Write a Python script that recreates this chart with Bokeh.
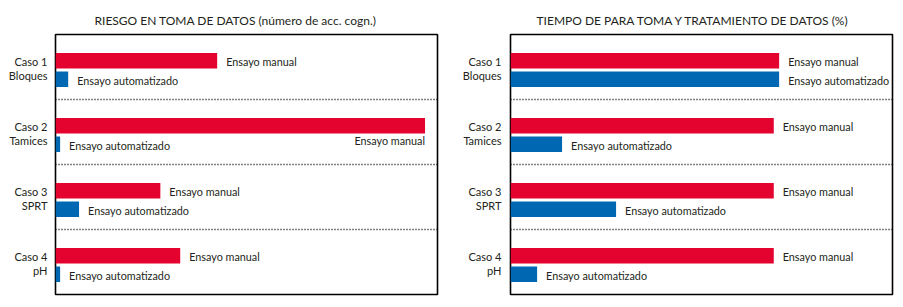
from bokeh.plotting import figure
from bokeh.layouts import row
from bokeh.models import ColumnDataSource, Range1d, FixedTicker, Span
from bokeh.core.properties import value
from bokeh.embed import file_html
from bokeh.resources import INLINE

# ---- data ----
casos = ["Caso 1", "Caso 2", "Caso 3", "Caso 4"]
subtitulos = ["Bloques", "Tamices", "SPRT", "pH"]

riesgo_manual = [35, 80, 22.7, 27]
riesgo_auto = [2.75, 1.0, 5.1, 1.0]

tiempo_manual = [100, 98, 98, 98]
tiempo_auto = [100, 19.2, 39.3, 9.9]

titulo_riesgo = "RIESGO EN TOMA DE DATOS (número de acc. cogn.)"
titulo_tiempo = "TIEMPO DE PARA TOMA Y TRATAMIENTO DE DATOS (%)"
etiqueta_manual = "Ensayo manual"
etiqueta_auto = "Ensayo automatizado"

RED = "#E4032E"
BLUE = "#0068B3"
FONT = "Lato"
TXT = "#231f20"

MAN_C = 0.403
AUT_C = 0.69
BAR_H = 0.238
LAB_M = 0.415
LAB_A = 0.70


def make_panel(title, manual, auto, xmax, left, right, title_offset, standoff):
    n = len(casos)
    p = figure(width=left + 382 + right, height=307,
               x_range=Range1d(0, xmax), y_range=Range1d(n, 0),
               output_backend="svg", toolbar_location=None,
               min_border_left=left, min_border_right=right,
               min_border_top=34, min_border_bottom=13)
    p.title.text = title
    p.title.text_font = FONT
    p.title.text_font_size = "12px"
    p.title.text_font_style = "normal"
    p.title.text_color = TXT
    p.title.align = "left"
    p.title.offset = title_offset
    p.title.standoff = 14

    p.grid.visible = False
    p.xaxis.visible = False
    p.background_fill_color = "white"
    p.border_fill_color = "white"
    p.outline_line_color = "black"
    p.outline_line_width = 1.6
    p.outline_line_alpha = 1

    idx = list(range(n))
    ym = [i + MAN_C for i in idx]
    ya = [i + AUT_C for i in idx]
    p.hbar(y=ym, right=manual, left=0, height=BAR_H, color=RED, line_color=None)
    p.hbar(y=ya, right=auto, left=0, height=BAR_H, color=BLUE, line_color=None)

    # labels
    lx, ly, la, lo = [], [], [], []
    for i in idx:
        if manual[i] > 0.9 * xmax:
            lx.append(manual[i]); ly.append(i + 0.63); la.append("right"); lo.append(0)
        else:
            lx.append(manual[i]); ly.append(i + LAB_M); la.append("left"); lo.append(9)
    src_m = ColumnDataSource(dict(x=lx, y=ly, t=[etiqueta_manual] * n, a=la, o=lo))
    p.text(x="x", y="y", text="t", source=src_m, text_align="a", x_offset="o",
           text_baseline="middle", text_font=value(FONT), text_font_size="10.8px",
           text_color=TXT)
    src_a = ColumnDataSource(dict(x=auto, y=[i + LAB_A for i in idx], t=[etiqueta_auto] * n))
    p.text(x="x", y="y", text="t", source=src_a, text_align="left", x_offset=9,
           text_baseline="middle", text_font=value(FONT), text_font_size="10.8px",
           text_color=TXT)

    for i in range(1, n):
        p.add_layout(Span(location=i, dimension="width", line_color="black",
                          line_width=1.3, line_dash="1 2"))

    ticks, over = [], {}
    for i in idx:
        t1 = i + 0.41
        t2 = i + 0.63
        ticks += [t1, t2]
        over[t1] = casos[i]
        over[t2] = subtitulos[i]
    yax = p.yaxis[0]
    yax.ticker = FixedTicker(ticks=ticks)
    yax.major_label_overrides = over
    yax.axis_line_color = None
    yax.major_tick_line_color = None
    yax.minor_tick_line_color = None
    yax.major_tick_out = 0
    yax.major_tick_in = 0
    yax.major_label_standoff = standoff
    yax.major_label_text_font = FONT
    yax.major_label_text_font_size = "11px"
    yax.major_label_text_color = TXT
    return p


p1 = make_panel(titulo_riesgo, riesgo_manual, riesgo_auto, 82.7, 55, 14, 39, 8)
p2 = make_panel(titulo_tiempo, tiempo_manual, tiempo_auto, 142.2, 59, 11, 26, 9)

layout = row(p1, p2)
open("out.html", "w").write(file_html(layout, INLINE))
